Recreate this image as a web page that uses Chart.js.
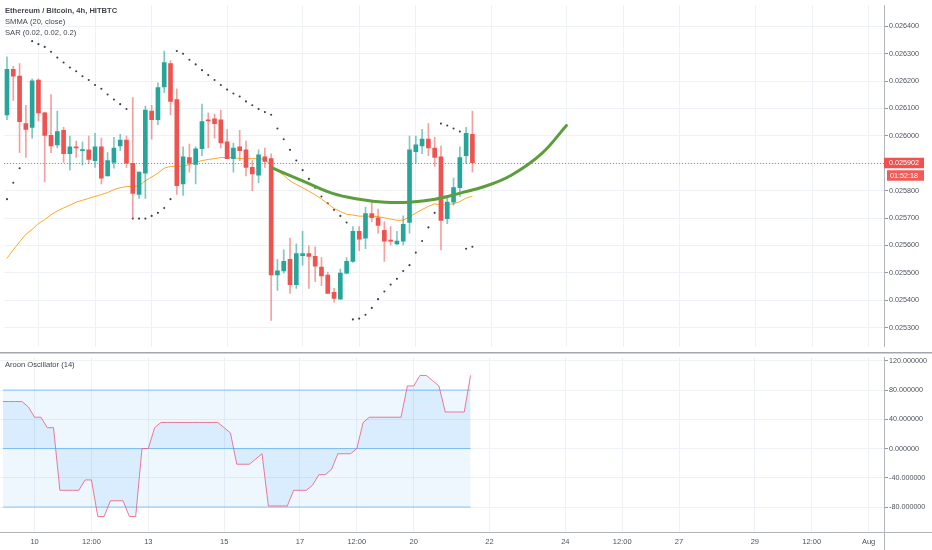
<!DOCTYPE html>
<html>
<head>
<meta charset="utf-8">
<script src="https://cdn.jsdelivr.net/npm/chart.js@4.4.1/dist/chart.umd.min.js"></script>
<style>
  html, body { margin: 0; padding: 0; background: #fff; }
  #wrap { position: relative; width: 932px; height: 550px; overflow: hidden; }
  #price { position: absolute; left: 0; top: 0; }
  #osc { position: absolute; left: 0; top: 352px; }
</style>
</head>
<body>
<div id="wrap">
  <canvas id="price" width="932" height="352"></canvas>
  <canvas id="osc" width="932" height="198"></canvas>
</div>
<script>
// ETH/BTC 4h candles (75 bars)
const opens = [0.026077,0.026243,0.026218,0.026045,0.026031,0.026204,0.026084,0.026002,0.025967,0.026020,
  0.025935,0.025960,0.025946,0.025949,0.025910,0.025960,0.025854,0.025903,0.025963,0.025985,
  0.025900,0.025786,0.025864,0.026091,0.026059,0.026179,0.026264,0.026133,0.025825,0.025921,
  0.025896,0.025953,0.026059,0.026062,0.026059,0.025978,0.025917,0.025960,0.025949,0.025885,
  0.025857,0.025924,0.025917,0.025492,0.025507,0.025549,0.025457,0.025563,0.025570,0.025560,
  0.025521,0.025492,0.025429,0.025404,0.025499,0.025542,0.025652,0.025627,0.025716,0.025701,
  0.025655,0.025620,0.025606,0.025616,0.025684,0.025942,0.025963,0.025988,0.025956,0.025924,
  0.025698,0.025758,0.025811,0.025928,0.026006];
const highs = [0.026289,0.026254,0.026264,0.026112,0.026208,0.026208,0.026087,0.026151,0.026091,0.026031,
  0.025999,0.025981,0.025978,0.025999,0.026009,0.025992,0.025939,0.025995,0.026006,0.025999,
  0.026140,0.025868,0.026109,0.026112,0.026194,0.026310,0.026275,0.026172,0.025960,0.025970,
  0.025960,0.026116,0.026084,0.026080,0.026094,0.026024,0.025974,0.026020,0.025981,0.025910,
  0.025949,0.025956,0.025935,0.025549,0.025584,0.025627,0.025606,0.025652,0.025599,0.025595,
  0.025556,0.025503,0.025443,0.025514,0.025556,0.025669,0.025669,0.025740,0.025761,0.025733,
  0.025687,0.025669,0.025652,0.025708,0.025999,0.025999,0.026024,0.026045,0.025995,0.025963,
  0.025776,0.025846,0.025960,0.026031,0.026091];
const lows = [0.026059,0.026130,0.025939,0.025921,0.025992,0.026055,0.025832,0.025939,0.025956,0.025903,
  0.025875,0.025921,0.025893,0.025900,0.025885,0.025825,0.025854,0.025882,0.025946,0.025885,
  0.025698,0.025772,0.025772,0.025988,0.026041,0.026158,0.026077,0.025786,0.025783,0.025868,
  0.025825,0.025928,0.025956,0.025992,0.025956,0.025917,0.025868,0.025910,0.025854,0.025800,
  0.025829,0.025885,0.025326,0.025436,0.025499,0.025425,0.025443,0.025528,0.025443,0.025468,
  0.025453,0.025425,0.025393,0.025404,0.025496,0.025538,0.025581,0.025588,0.025687,0.025645,
  0.025542,0.025602,0.025602,0.025602,0.025645,0.025900,0.025935,0.025928,0.025889,0.025584,
  0.025680,0.025747,0.025779,0.025900,0.025868];
const closes = [0.026243,0.026218,0.026052,0.026024,0.026201,0.026084,0.026002,0.025963,0.026016,0.025935,
  0.025960,0.025956,0.025949,0.025914,0.025960,0.025846,0.025910,0.025956,0.025985,0.025900,
  0.025790,0.025868,0.026094,0.026059,0.026176,0.026268,0.026126,0.025818,0.025924,0.025900,
  0.025953,0.026052,0.026055,0.026045,0.025974,0.025917,0.025956,0.025946,0.025885,0.025861,
  0.025931,0.025907,0.025492,0.025507,0.025542,0.025457,0.025570,0.025570,0.025560,0.025524,
  0.025489,0.025425,0.025407,0.025499,0.025542,0.025652,0.025623,0.025716,0.025701,0.025673,
  0.025616,0.025616,0.025616,0.025677,0.025949,0.025967,0.025988,0.025956,0.025921,0.025691,
  0.025758,0.025811,0.025921,0.026009,0.025902];

// SMMA (20, close)
const smma = [0.025553,0.025584,0.025613,0.025641,0.025659,0.025680,0.025694,0.025712,0.025726,0.025737,
  0.025747,0.025758,0.025765,0.025772,0.025779,0.025786,0.025793,0.025804,0.025811,0.025815,
  0.025815,0.025818,0.025836,0.025850,0.025864,0.025882,0.025889,0.025889,0.025889,0.025896,
  0.025903,0.025910,0.025914,0.025917,0.025921,0.025921,0.025921,0.025917,0.025917,0.025917,
  0.025917,0.025914,0.025893,0.025873,0.025856,0.025836,0.025823,0.025811,0.025798,0.025785,
  0.025770,0.025752,0.025735,0.025724,0.025714,0.025711,0.025707,0.025707,0.025707,0.025705,
  0.025701,0.025696,0.025692,0.025692,0.025705,0.025718,0.025731,0.025743,0.025752,0.025748,
  0.025749,0.025752,0.025760,0.025773,0.025780];

// Parabolic SAR (0.02, 0.02, 0.2)
const sar = [0.025769,0.025829,0.025882,null,0.026346,0.026335,0.026325,0.026307,0.026286,0.026268,
  0.026250,0.026236,0.026218,0.026204,0.026186,0.026172,0.026151,0.026133,0.026116,0.026098,
  0.025698,0.025698,0.025698,0.025708,0.025719,0.025737,0.025769,0.026310,0.026300,0.026278,
  0.026261,0.026240,0.026222,0.026204,0.026186,0.026169,0.026155,0.026144,0.026126,0.026112,
  0.026098,0.026087,0.026077,0.026027,0.025988,0.025949,0.025910,0.025875,0.025843,0.025811,
  0.025779,0.025754,0.025730,0.025708,0.025684,0.025330,0.025333,0.025347,0.025372,0.025404,
  0.025432,0.025457,0.025478,0.025507,0.025528,0.025574,0.025616,0.025666,0.025719,0.026045,
  0.026038,0.026027,0.026016,0.025588,0.025595];

// Aroon Oscillator (14)
const aroon = [64.3,64.3,64.3,64.3,57.1,42.9,42.9,28.6,28.6,-57.1,
  -57.1,-57.1,-57.1,-42.9,-42.9,-92.9,-92.9,-71.4,-71.4,-71.4,
  -92.9,-92.9,0,0,28.6,35.7,35.7,35.7,35.7,35.7,
  35.7,35.7,35.7,35.7,35.7,28.6,21.4,-21.4,-21.4,-21.4,
  -14.3,-7.1,-78.6,-78.6,-78.6,-78.6,-57.1,-57.1,-57.1,-50,
  -35.7,-35.7,-28.6,-7.1,-7.1,-7.1,0,35.7,42.9,42.9,
  42.9,42.9,42.9,42.9,85.7,85.7,100,100,92.9,85.7,
  50,50,50,50,100];
const aroonLevels = [80, 0, -80];

// hand drawn rounding-bottom curve (bar index, price)
const curveBars = [42.26,47.0,51.76,56.03,60.15,63.94,68.06,72.33,76.29,80.25,85.0,88.95];
const curvePrices = [0.025882,0.025836,0.025790,0.025769,0.025758,0.025758,0.025769,0.025793,0.025818,0.025857,0.025935,0.026038];

// axes
const priceTicks = [0.0253,0.0254,0.0255,0.0256,0.0257,0.0258,0.0259,0.0260,0.0261,0.0262,0.0263,0.0264];
const oscTicks = [120, 80, 40, 0, -40, -80];
const timeTickBars = [5,14,23,35,47,56,65,77,89,98,107,119,128,137];
const timeTickLabels = ['10','12:00','13','15','17','12:00','20','22','24','12:00','27','29','12:00','Aug'];

const legendLines = ['Ethereum / Bitcoin, 4h, HITBTC', 'SMMA (20, close)', 'SAR (0.02, 0.02, 0.2)'];
const countdown = '01:52:18';

const FONT = "'Liberation Sans', Arial, sans-serif";
const UP = '#26a69a', DOWN = '#ef5350';
const GRID = '#eef1f6';
const AXIS = '#b2b5be';
const TEXT = '#4c525e';
const X_MIN = -0.475, X_MAX = 139.44;

Chart.defaults.font.family = FONT;
Chart.defaults.animation = false;

const lastPrice = closes[closes.length - 1];
const isUp = closes.map((c, i) => c >= opens[i]);

function rightAxis(min, max, ticks, fmt) {
  return {
    position: 'right', min: min, max: max,
    afterFit: s => { s.width = 48; },
    afterBuildTicks: s => { s.ticks = ticks.map(v => ({ value: v })); },
    grid: { color: GRID, tickColor: '#9598a1', tickLength: 4, drawTicks: true },
    border: { display: true, color: AXIS, width: 1 },
    ticks: { autoSkip: false, padding: 1, color: TEXT, font: { size: 7.2 }, callback: fmt }
  };
}

function timeAxis(showLabels) {
  return {
    type: 'linear', min: X_MIN, max: X_MAX, offset: false,
    afterFit: s => { s.height = showLabels ? 18 : 0; },
    afterBuildTicks: s => { s.ticks = timeTickBars.map(v => ({ value: v })); },
    grid: { color: GRID, drawTicks: false, offset: false },
    border: { display: false },
    ticks: {
      display: showLabels, autoSkip: false, maxRotation: 0, padding: 5,
      color: TEXT, font: { size: 7.5 },
      callback: (v, i) => timeTickLabels[i]
    }
  };
}

const pricePlugin = {
  id: 'priceExtras',
  beforeDatasetsDraw(chart) {
    const { ctx, chartArea } = chart;
    const y = chart.scales.y.getPixelForValue(lastPrice);
    ctx.save();
    ctx.strokeStyle = 'rgba(239,83,80,0.85)';
    ctx.lineWidth = 1;
    ctx.setLineDash([1, 2]);
    ctx.beginPath();
    ctx.moveTo(chartArea.left, Math.round(y) + 0.5);
    ctx.lineTo(chartArea.right, Math.round(y) + 0.5);
    ctx.stroke();
    ctx.restore();
  },
  afterDraw(chart) {
    const { ctx } = chart;
    const y = chart.scales.y.getPixelForValue(lastPrice);
    ctx.save();
    ctx.fillStyle = '#ef5350';
    ctx.fillRect(884, y - 5, 40, 10.5);
    ctx.fillStyle = '#f05b58';
    ctx.fillRect(887, y + 7.5, 37, 10.5);
    ctx.fillStyle = '#ffffff';
    ctx.font = '7.2px ' + FONT;
    ctx.textBaseline = 'middle';
    ctx.fillText(lastPrice.toFixed(6), 889, y + 0.3);
    ctx.fillText(countdown, 890, y + 12.8);
    // legend
    ctx.fillStyle = '#434651';
    ctx.textBaseline = 'middle';
    legendLines.forEach((t, i) => {
      ctx.font = (i === 0 ? 'bold ' : '') + '7.6px ' + FONT;
      ctx.fillText(t, 5, 10.7 + i * 11);
    });
    ctx.restore();
  }
};

new Chart(document.getElementById('price'), {
  type: 'bar',
  data: {
    datasets: [
      {
        type: 'line', label: 'curve', order: 0,
        data: curveBars.map((b, i) => ({ x: b, y: curvePrices[i] })),
        borderColor: '#5c9e3c', borderWidth: 3, tension: 0.4,
        pointRadius: 0, borderCapStyle: 'round'
      },
      {
        label: 'bodies', order: 1, grouped: false,
        data: opens.map((o, i) => ({ x: i, y: [o, closes[i]] })),
        backgroundColor: isUp.map(u => u ? UP : DOWN),
        barThickness: 4, minBarLength: 1, borderWidth: 0
      },
      {
        label: 'wicks', order: 2, grouped: false,
        data: lows.map((l, i) => ({ x: i, y: [l, highs[i]] })),
        backgroundColor: isUp.map(u => u ? 'rgba(38,166,154,0.6)' : 'rgba(239,83,80,0.55)'),
        barThickness: 1, borderWidth: 0
      },
      {
        type: 'line', label: 'SMMA', order: 3,
        data: smma.map((v, i) => ({ x: i, y: v })),
        borderColor: 'rgba(255,152,0,0.85)', borderWidth: 1, pointRadius: 0
      },
      {
        type: 'line', label: 'SAR', order: 4, showLine: false,
        data: sar.map((v, i) => ({ x: i, y: v })),
        pointRadius: 1.05, pointBackgroundColor: '#3c3f4a', pointBorderWidth: 0
      }
    ]
  },
  options: {
    responsive: false,
    layout: { padding: 0 },
    plugins: { legend: { display: false }, tooltip: { enabled: false } },
    scales: {
      x: timeAxis(false),
      y: rightAxis(0.0252304, 0.0264768, priceTicks,
        v => Math.abs(v - lastPrice) < 0.00004 ? '' : v.toFixed(6))
    }
  },
  plugins: [pricePlugin]
});

const oscPlugin = {
  id: 'oscExtras',
  afterDraw(chart) {
    const { ctx, chartArea, width, height } = chart;
    ctx.save();
    ctx.strokeStyle = '#a3a6af';
    ctx.lineWidth = 1.5;
    ctx.beginPath();
    ctx.moveTo(0, 0.8); ctx.lineTo(width, 0.8);
    ctx.stroke();
    ctx.strokeStyle = AXIS;
    ctx.lineWidth = 1;
    ctx.beginPath();
    ctx.moveTo(0, chartArea.bottom + 0.5); ctx.lineTo(width, chartArea.bottom + 0.5);
    ctx.moveTo(chartArea.right + 0.5, chartArea.bottom); ctx.lineTo(chartArea.right + 0.5, height);
    ctx.stroke();
    ctx.fillStyle = '#434651';
    ctx.font = '7.6px ' + FONT;
    ctx.textBaseline = 'middle';
    ctx.fillText('Aroon Oscillator (14)', 5, 13);
    ctx.restore();
  }
};

const levelData = lv => [{ x: 0, y: lv }, { x: aroon.length - 1, y: lv }];

new Chart(document.getElementById('osc'), {
  type: 'line',
  data: {
    datasets: [
      {
        label: 'upper', order: 2, data: levelData(aroonLevels[0]),
        borderColor: 'rgba(33,150,243,0.5)', borderWidth: 1, pointRadius: 0,
        fill: 2, backgroundColor: 'rgba(33,150,243,0.08)'
      },
      {
        label: 'middle', order: 1, data: levelData(aroonLevels[1]),
        borderColor: 'rgba(33,150,243,0.5)', borderWidth: 1, pointRadius: 0, fill: false
      },
      {
        label: 'lower', order: 1, data: levelData(aroonLevels[2]),
        borderColor: 'rgba(33,150,243,0.5)', borderWidth: 1, pointRadius: 0, fill: false
      },
      {
        label: 'Aroon Osc', order: 0,
        data: aroon.map((v, i) => ({ x: i, y: v })),
        borderColor: 'rgba(236,90,120,0.8)', borderWidth: 1, pointRadius: 0,
        fill: { value: 0 }, backgroundColor: 'rgba(33,150,243,0.1)'
      }
    ]
  },
  options: {
    responsive: false,
    layout: { padding: { top: 2 } },
    plugins: { legend: { display: false }, tooltip: { enabled: false } },
    scales: {
      x: timeAxis(true),
      y: rightAxis(-114.1, 124.8, oscTicks, v => v.toFixed(6))
    }
  },
  plugins: [oscPlugin]
});
</script>
</body>
</html>
